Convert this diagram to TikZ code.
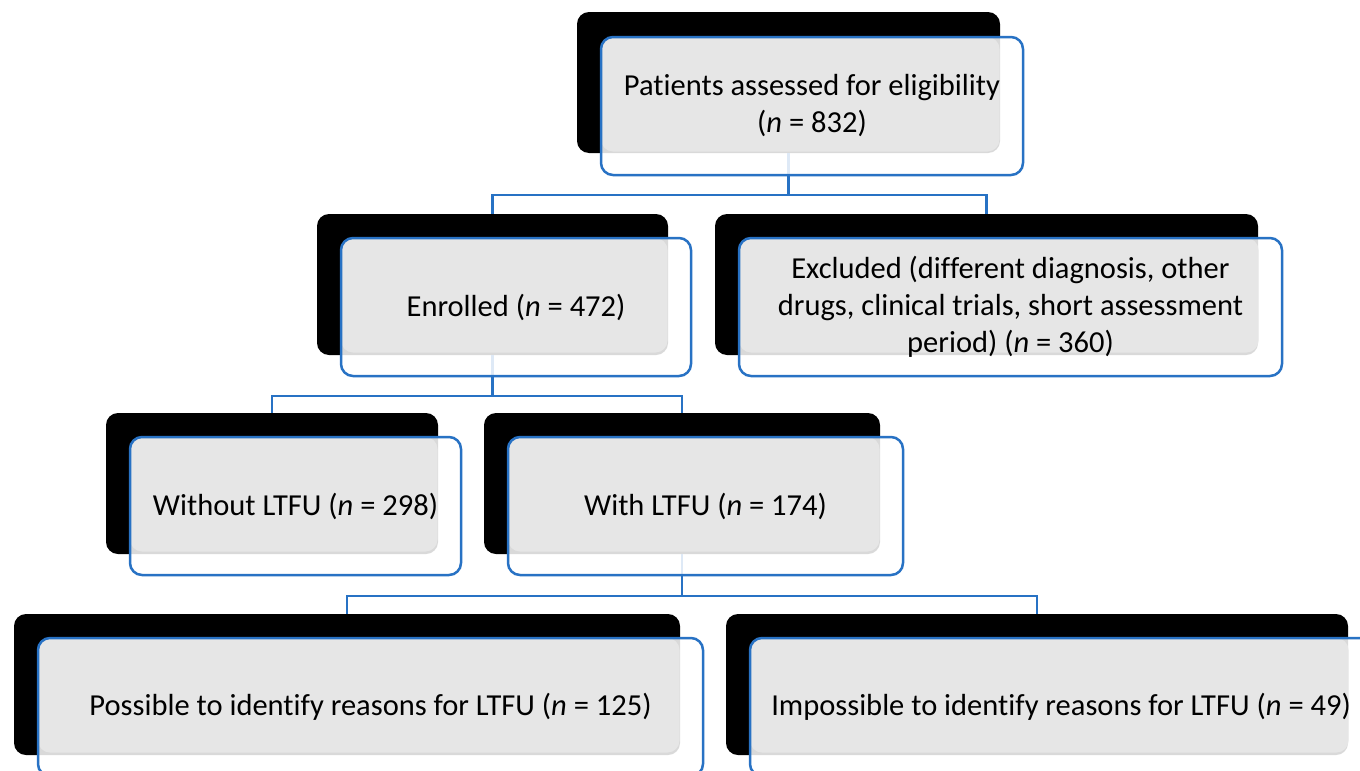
\documentclass[tikz,border=0pt]{standalone}
\usepackage{fontspec}
\setmainfont{Carlito}[Ligatures={NoCommon}]
\definecolor{boxblue}{RGB}{40,114,196}
\definecolor{boxgray}{RGB}{230,230,230}
\begin{document}
\begin{tikzpicture}[x=1pt, y=-1pt,
  shadow box/.style={fill=black, rounded corners=12pt, anchor=north west,
    inner sep=0pt, outer sep=0pt, minimum height=141pt},
  front box/.style={draw=boxblue, line width=2.5pt, rounded corners=12pt,
    anchor=north west, inner sep=0pt, outer sep=0pt, minimum height=138pt,
    fill=white, fill opacity=0.85, text opacity=1, align=center,
    font=\fontsize{30.5}{37}\selectfont,
    path picture={\fill[boxgray, fill opacity=1, rounded corners=12pt]
      (path picture bounding box.north west) rectangle
      ([xshift=-23.5pt, yshift=23.5pt]path picture bounding box.south east);}},
  link/.style={draw=boxblue, line width=2.5pt}
]
\useasboundingbox (0,0) rectangle (1360,771);
\clip (0,0) rectangle (1360,771);
% Define the shadows
\node[shadow box, minimum width=423pt] (k1) at (577,12) {};
\node[shadow box, minimum width=351pt] (k2) at (317,214) {};
\node[shadow box, minimum width=543pt] (k3) at (715,214) {};
\node[shadow box, minimum width=332pt] (k4) at (106,413) {};
\node[shadow box, minimum width=396pt] (k5) at (484,413) {};
\node[shadow box, minimum width=666pt] (k6) at (14,614) {};
\node[shadow box, minimum width=622pt] (k7) at (726,614) {};
% Define the edges
\path[link] (k1.south) -- ++(0,42) -| (k2.north);
\path[link] (k1.south) -- ++(0,42) -| (k3.north);
\path[link] (k2.south) -- ++(0,41) -| (k4.north);
\path[link] (k2.south) -- ++(0,41) -| (k5.north);
\path[link] (k5.south) -- ++(0,42) -| (k6.north);
\path[link] (k5.south) -- ++(0,42) -| (k7.north);
% Define the boxes
\node[front box, minimum width=422pt] (b1) at (601,37) {Patients assessed for eligibility\\(\textit{n} = 832)};
\node[front box, minimum width=350pt] (b2) at (341,238) {Enrolled (\textit{n} = 472)};
\node[front box, minimum width=543pt] (b3) at (739,238) {Excluded (different diagnosis, other\\drugs, clinical trials, short assessment\\period) (\textit{n} = 360)};
\node[front box, minimum width=331pt] (b4) at (130,437) {Without LTFU (\textit{n} = 298)};
\node[front box, minimum width=395pt] (b5) at (508,437) {With LTFU (\textit{n} = 174)};
\node[front box, minimum width=665pt] (b6) at (38,638) {Possible to identify reasons for LTFU (\textit{n} = 125)};
\node[front box, minimum width=622pt] (b7) at (750,638) {Impossible to identify reasons for LTFU (\textit{n} = 49)};
\end{tikzpicture}
\end{document}
